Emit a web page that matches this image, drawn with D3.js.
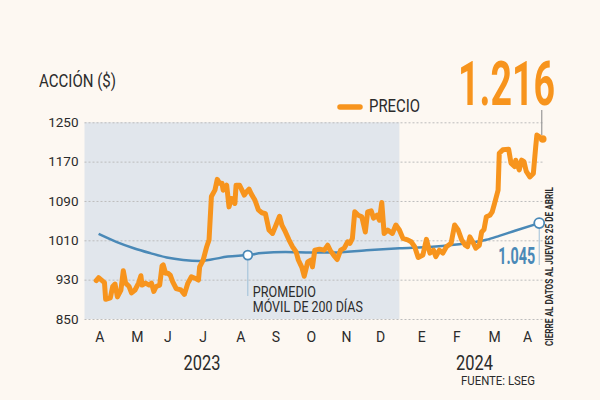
<!DOCTYPE html>
<html>
<head>
<meta charset="utf-8">
<script src="https://cdn.jsdelivr.net/npm/d3@7"></script>
<style>
  html, body { margin: 0; padding: 0; background: #fdf8f2; }
  svg { display: block; }
  text { font-family: Roboto, "Noto Sans", sans-serif; fill: #2b2b2b; }
</style>
</head>
<body>
<svg id="chart" width="600" height="400"></svg>
<script>
// Precio de la accion (cierre diario)
var priceSeries = [
  ["2023-04-11", 928], ["2023-04-13", 934], ["2023-04-16", 928], ["2023-04-18", 924],
  ["2023-04-19", 890], ["2023-04-23", 893], ["2023-04-25", 916], ["2023-04-27", 921],
  ["2023-04-29", 895], ["2023-05-02", 909], ["2023-05-04", 948], ["2023-05-06", 923],
  ["2023-05-09", 916], ["2023-05-11", 903], ["2023-05-14", 909], ["2023-05-17", 923],
  ["2023-05-19", 938], ["2023-05-20", 919], ["2023-05-23", 923], ["2023-05-26", 919],
  ["2023-05-28", 923], ["2023-05-30", 906], ["2023-06-01", 916], ["2023-06-04", 919],
  ["2023-06-06", 958], ["2023-06-07", 960], ["2023-06-09", 943], ["2023-06-11", 943],
  ["2023-06-13", 939], ["2023-06-15", 926], ["2023-06-18", 912], ["2023-06-22", 909],
  ["2023-06-25", 900], ["2023-06-28", 923], ["2023-07-01", 936], ["2023-07-04", 933],
  ["2023-07-07", 929], ["2023-07-08", 956], ["2023-07-11", 970], ["2023-07-14", 997],
  ["2023-07-16", 1011], ["2023-07-18", 1099], ["2023-07-21", 1112], ["2023-07-23", 1134],
  ["2023-07-25", 1126], ["2023-07-27", 1126], ["2023-07-28", 1112], ["2023-07-31", 1122],
  ["2023-08-02", 1078], ["2023-08-04", 1095], ["2023-08-07", 1085], ["2023-08-08", 1122],
  ["2023-08-11", 1122], ["2023-08-13", 1112], ["2023-08-15", 1102], ["2023-08-17", 1109],
  ["2023-08-19", 1114], ["2023-08-21", 1104], ["2023-08-24", 1092], ["2023-08-27", 1072],
  ["2023-08-30", 1066], ["2023-09-02", 1064], ["2023-09-05", 1031], ["2023-09-08", 1024],
  ["2023-09-11", 1041], ["2023-09-14", 1059], ["2023-09-16", 1041], ["2023-09-19", 1027],
  ["2023-09-22", 1011], ["2023-09-25", 997], ["2023-09-28", 987], ["2023-09-30", 970],
  ["2023-10-03", 955], ["2023-10-05", 937], ["2023-10-08", 966], ["2023-10-11", 970],
  ["2023-10-12", 956], ["2023-10-14", 990], ["2023-10-18", 992], ["2023-10-22", 990],
  ["2023-10-25", 1000], ["2023-10-27", 990], ["2023-10-30", 980], ["2023-11-02", 971],
  ["2023-11-05", 990], ["2023-11-08", 994], ["2023-11-11", 1007], ["2023-11-13", 1004],
  ["2023-11-15", 1014], ["2023-11-17", 1068], ["2023-11-20", 1061], ["2023-11-23", 1058],
  ["2023-11-26", 1027], ["2023-11-28", 1068], ["2023-12-01", 1070], ["2023-12-03", 1055],
  ["2023-12-06", 1061], ["2023-12-08", 1051], ["2023-12-10", 1087], ["2023-12-12", 1024],
  ["2023-12-15", 1031], ["2023-12-19", 1024], ["2023-12-22", 1041], ["2023-12-25", 1031],
  ["2023-12-28", 1014], ["2024-01-01", 1011], ["2024-01-04", 1007], ["2024-01-07", 997],
  ["2024-01-10", 975], ["2024-01-14", 980], ["2024-01-17", 1012], ["2024-01-20", 984],
  ["2024-01-23", 990], ["2024-01-25", 977], ["2024-01-28", 990], ["2024-01-31", 984],
  ["2024-02-03", 997], ["2024-02-07", 1004], ["2024-02-10", 1041], ["2024-02-13", 1031],
  ["2024-02-16", 1011], ["2024-02-19", 1000], ["2024-02-21", 997], ["2024-02-23", 1017],
  ["2024-02-26", 1004], ["2024-02-28", 994], ["2024-03-02", 1000], ["2024-03-04", 1027],
  ["2024-03-06", 1032], ["2024-03-08", 1058], ["2024-03-11", 1061], ["2024-03-13", 1068],
  ["2024-03-15", 1085], ["2024-03-18", 1112], ["2024-03-19", 1187], ["2024-03-22", 1194],
  ["2024-03-27", 1195], ["2024-03-29", 1167], ["2024-04-01", 1160], ["2024-04-02", 1173],
  ["2024-04-05", 1153], ["2024-04-07", 1173], ["2024-04-09", 1170], ["2024-04-11", 1150],
  ["2024-04-14", 1139], ["2024-04-17", 1146], ["2024-04-19", 1200], ["2024-04-20", 1224],
  ["2024-04-22", 1221]
];
var lastClose = ["2024-04-25", 1216];

// Promedio movil de 200 dias
var maSeries = [
  ["2023-04-13", 1023], ["2023-04-28", 1007], ["2023-05-13", 994], ["2023-05-27", 984],
  ["2023-06-10", 975], ["2023-06-24", 970], ["2023-07-08", 968], ["2023-07-18", 971],
  ["2023-08-01", 977], ["2023-08-18", 980], ["2023-08-30", 984], ["2023-09-19", 986],
  ["2023-10-11", 985], ["2023-10-29", 985], ["2023-11-27", 990], ["2023-12-25", 994],
  ["2024-01-22", 997], ["2024-02-20", 1004], ["2024-03-08", 1011], ["2024-03-19", 1019],
  ["2024-04-02", 1030], ["2024-04-22", 1045]
];
var maNoteDate = "2023-08-18";

var yTicks = [850, 930, 1010, 1090, 1170, 1250];
var monthLabels = ["A", "M", "J", "J", "A", "S", "O", "N", "D", "E", "F", "M", "A"];
var monthDates = ["2023-04-14", "2023-05-16", "2023-06-11", "2023-07-11", "2023-08-12",
  "2023-09-11", "2023-10-11", "2023-11-10", "2023-12-09", "2024-01-13", "2024-02-12",
  "2024-03-15", "2024-04-12"];
var yearLabels = ["2023", "2024"];
var yearDates = ["2023-07-10", "2024-02-27"];
var shadeEnd = "2023-12-25";

var parse = d3.timeParse("%Y-%m-%d");
var fmt = d3.format(",.0f");
var esNum = function (v) { return fmt(v).replace(/,/g, "."); };

var ORANGE = "#f7941d";
var BLUE = "#4a89b7";

var svg = d3.select("#chart");

var x = d3.scaleTime()
  .domain([parse("2023-04-01"), parse("2024-05-01")])
  .range([84.5, 549.8]);
var y = d3.scaleLinear()
  .domain([850, 1250])
  .range([319, 122.3]);

var xEnd = x(parse(lastClose[0]));

// sombreado 2023
svg.append("rect")
  .attr("x", x.range()[0])
  .attr("y", y(1250))
  .attr("width", x(parse(shadeEnd)) - x.range()[0])
  .attr("height", y(850) - y(1250))
  .attr("fill", "#e1e6ec");

// grid + tick labels
var yAxis = d3.axisLeft(y)
  .tickValues(yTicks)
  .tickFormat(d3.format("d"))
  .tickSize(-(xEnd - x.range()[0]))
  .tickPadding(6);
var gy = svg.append("g")
  .attr("transform", "translate(" + x.range()[0] + ",0)")
  .call(yAxis);
gy.select(".domain").remove();
gy.selectAll(".tick line")
  .attr("stroke", "#bdbdbd")
  .attr("stroke-dasharray", "2,2");
gy.selectAll(".tick text")
  .attr("font-size", 13.5)
  .attr("fill", "#2b2b2b")
  .style("font-family", "Roboto, sans-serif");

// month labels
svg.append("g").selectAll("text")
  .data(monthLabels)
  .join("text")
    .attr("x", function (d, i) { return x(parse(monthDates[i])); })
    .attr("y", 342)
    .attr("text-anchor", "middle")
    .attr("font-size", 14)
    .text(function (d) { return d; });

svg.append("g").selectAll("text")
  .data(yearLabels)
  .join("text")
    .attr("x", function (d, i) { return x(parse(yearDates[i])) - 18.5; })
    .attr("y", 369.5)
    .attr("font-size", 21)
    .attr("textLength", 37)
    .attr("lengthAdjust", "spacingAndGlyphs")
    .text(function (d) { return d; });

svg.append("text")
  .attr("x", 461).attr("y", 384.5)
  .attr("font-size", 13)
  .attr("textLength", 74)
  .attr("lengthAdjust", "spacingAndGlyphs")
  .text("FUENTE: LSEG");

// titles
svg.append("text")
  .attr("x", 39).attr("y", 87)
  .attr("font-size", 18)
  .attr("textLength", 77)
  .attr("lengthAdjust", "spacingAndGlyphs")
  .text("ACCIÓN ($)");

svg.append("line")
  .attr("x1", 340).attr("x2", 360)
  .attr("y1", 107).attr("y2", 107)
  .attr("stroke", ORANGE).attr("stroke-width", 5.5)
  .attr("stroke-linecap", "round");
svg.append("text")
  .attr("x", 369).attr("y", 112.3)
  .attr("font-size", 18)
  .attr("textLength", 51)
  .attr("lengthAdjust", "spacingAndGlyphs")
  .text("PRECIO");

// lines
var line = d3.line()
  .x(function (d) { return x(parse(d[0])); })
  .y(function (d) { return y(d[1]); });

svg.append("path")
  .datum(maSeries)
  .attr("d", line.curve(d3.curveMonotoneX))
  .attr("fill", "none")
  .attr("stroke", BLUE)
  .attr("stroke-width", 2.5);

svg.append("path")
  .datum(priceSeries)
  .attr("d", line.curve(d3.curveLinear))
  .attr("fill", "none")
  .attr("stroke", ORANGE)
  .attr("stroke-width", 5)
  .attr("stroke-linejoin", "round")
  .attr("stroke-linecap", "round");

// anotacion promedio movil
var noteVal = maSeries.find(function (d) { return d[0] == maNoteDate; })[1];
var nx = x(parse(maNoteDate)), ny = y(noteVal);
svg.append("line")
  .attr("x1", nx).attr("x2", nx)
  .attr("y1", ny).attr("y2", 296)
  .attr("stroke", "#9dbfd8").attr("stroke-width", 1);
svg.append("circle")
  .attr("cx", nx).attr("cy", ny).attr("r", 4.5)
  .attr("fill", "#fff").attr("stroke", BLUE).attr("stroke-width", 1.8);
svg.append("text")
  .attr("x", nx + 5).attr("y", 296.7)
  .attr("font-size", 14)
  .attr("textLength", 63)
  .attr("lengthAdjust", "spacingAndGlyphs")
  .text("PROMEDIO");
svg.append("text")
  .attr("x", nx + 5).attr("y", 311.7)
  .attr("font-size", 14)
  .attr("textLength", 110)
  .attr("lengthAdjust", "spacingAndGlyphs")
  .text("MÓVIL DE 200 DÍAS");

// ultimo promedio
var lastMa = maSeries[maSeries.length - 1];
var mx = x(parse(lastMa[0])), my = y(lastMa[1]);
svg.append("line")
  .attr("x1", mx).attr("x2", mx)
  .attr("y1", my).attr("y2", 265)
  .attr("stroke", "#9dbfd8").attr("stroke-width", 1);
svg.append("circle")
  .attr("cx", mx).attr("cy", my).attr("r", 5)
  .attr("fill", "#fff").attr("stroke", BLUE).attr("stroke-width", 1.8);
svg.append("text")
  .attr("x", mx - 41).attr("y", 264)
  .attr("font-size", 23)
  .attr("font-weight", "bold")
  .attr("textLength", 37)
  .attr("lengthAdjust", "spacingAndGlyphs")
  .style("fill", BLUE)
  .text(esNum(lastMa[1]));

// ultimo cierre
var px = x(parse(lastClose[0])), py = y(lastClose[1]);
svg.append("line")
  .attr("x1", px - 1).attr("x2", px - 1)
  .attr("y1", 110).attr("y2", py - 4)
  .attr("stroke", "#999").attr("stroke-width", 1.2);
svg.append("circle")
  .attr("cx", px).attr("cy", py).attr("r", 3.8)
  .attr("fill", ORANGE);
// big number: squeeze horizontally with a transform so its box stays in the frame
var big = svg.append("g");
var bigText = big.append("text")
  .attr("x", 0).attr("y", 0)
  .attr("font-size", 62)
  .attr("font-weight", "bold")
  .style("fill", ORANGE)
  .text(esNum(lastClose[1]));
var bigW = bigText.node().getComputedTextLength();
big.attr("transform", "translate(458,105) scale(" + (97 / bigW) + ",1)");

// nota vertical
svg.append("text")
  .attr("transform", "translate(553,346) rotate(-90)")
  .attr("font-size", 10)
  .attr("font-weight", "bold")
  .attr("textLength", 159)
  .attr("lengthAdjust", "spacingAndGlyphs")
  .text("CIERRE AL DATOS AL JUEVES 25 DE ABRIL");
</script>
</body>
</html>
